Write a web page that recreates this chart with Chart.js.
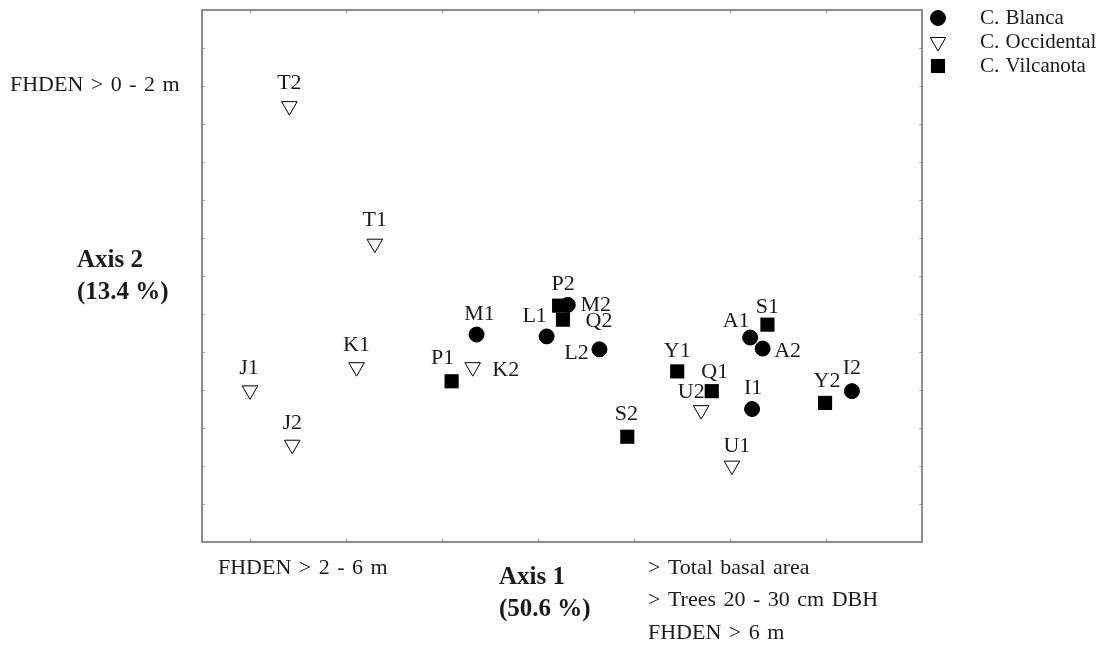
<!DOCTYPE html>
<html>
<head>
<meta charset="utf-8">
<script src="https://cdn.jsdelivr.net/npm/chart.js@4/dist/chart.umd.min.js"></script>
<style>
  html, body { margin: 0; padding: 0; background: #fff; }
  #wrap { position: relative; width: 1117px; height: 653px; }
</style>
</head>
<body>
<div id="wrap"><canvas id="ordination" width="1117" height="653"></canvas></div>
<script>
// ordination scores (axis 1 / axis 2, arbitrary units)
const blancaNames = ["M1", "L1", "M2", "L2", "A1", "A2", "I1", "I2"];
const blancaX = [2.36, 3.09, 3.31, 3.64, 5.21, 5.34, 5.23, 6.27];
const blancaY = [5.46, 5.41, 6.24, 5.07, 5.38, 5.09, 3.50, 3.97];

const occidentalNames = ["T2", "T1", "J1", "J2", "K1", "K2", "U2", "U1"];
const occidentalX = [0.41, 1.30, 0.00, 0.44, 1.11, 2.32, 4.70, 5.02];
const occidentalY = [11.47, 7.85, 3.99, 2.56, 4.60, 4.60, 3.47, 2.01];

const vilcanotaNames = ["P1", "P2", "Q2", "S2", "Y1", "Q1", "S1", "Y2"];
const vilcanotaX = [2.10, 3.22, 3.26, 3.93, 4.45, 4.81, 5.39, 5.99];
const vilcanotaY = [4.23, 6.22, 5.85, 2.77, 4.49, 3.97, 5.72, 3.66];

// where each point label sits relative to its marker (px)
const blancaLabelOffsets = [[3, -20], [-12, -20], [28, 0], [-23, 4], [-14, -16], [25, 3], [1, -21], [0, -23]];
const occidentalLabelOffsets = [[0, -23], [0, -23], [-1, -22], [0, -22], [0, -22], [33, 3], [-10, -18], [5, -19]];
const vilcanotaLabelOffsets = [[-9, -23], [4, -21], [36, 2], [-1, -23], [0, -20], [3, -19], [0, -17], [2, -22]];

const seriesNames = ["C. Blanca", "C. Occidental", "C. Vilcanota"];

const toPoints = (xs, ys) => xs.map((x, i) => ({ x: x, y: ys[i] }));

const serif = '"Liberation Serif", "DejaVu Serif", serif';

// frame with small inward ticks on every side
const framePlugin = {
  id: 'frame',
  afterDraw(chart) {
    const { ctx, chartArea: a, scales } = chart;
    ctx.save();
    ctx.strokeStyle = '#b0b0b0';
    ctx.lineWidth = 1;
    const xs = scales.x, ys = scales.y;
    for (let v = Math.ceil(xs.min); v < xs.max; v++) {
      const px = Math.round(xs.getPixelForValue(v)) + 0.5;
      ctx.beginPath();
      ctx.moveTo(px, a.top); ctx.lineTo(px, a.top + 3);
      ctx.moveTo(px, a.bottom); ctx.lineTo(px, a.bottom - 3);
      ctx.stroke();
    }
    for (let v = Math.ceil(ys.min) + 1; v < ys.max; v++) {
      const py = Math.round(ys.getPixelForValue(v)) + 0.5;
      ctx.beginPath();
      ctx.moveTo(a.left, py); ctx.lineTo(a.left + 3, py);
      ctx.moveTo(a.right, py); ctx.lineTo(a.right - 3, py);
      ctx.stroke();
    }
    ctx.strokeStyle = '#707070';
    ctx.lineWidth = 1.6;
    ctx.strokeRect(a.left, a.top, a.right - a.left, a.bottom - a.top);
    ctx.restore();
  }
};

// point names next to the markers
const pointLabelPlugin = {
  id: 'pointLabels',
  afterDatasetsDraw(chart) {
    const { ctx } = chart;
    ctx.save();
    ctx.font = '22px ' + serif;
    ctx.fillStyle = '#1a1a1a';
    ctx.textAlign = 'center';
    ctx.textBaseline = 'middle';
    chart.data.datasets.forEach((ds, di) => {
      const meta = chart.getDatasetMeta(di);
      meta.data.forEach((el, i) => {
        const off = ds.labelOffsets[i];
        ctx.fillText(ds.names[i], el.x + off[0], el.y + off[1]);
      });
    });
    ctx.restore();
  }
};

// legend, axis captions and loading notes outside the frame
const annotationPlugin = {
  id: 'annotations',
  afterDraw(chart) {
    const { ctx } = chart;
    ctx.save();
    ctx.fillStyle = '#1a1a1a';
    ctx.textBaseline = 'middle';

    // legend
    ctx.font = '21px ' + serif;
    ctx.wordSpacing = '1px';
    ctx.textAlign = 'left';
    chart.data.datasets.forEach((ds, i) => {
      const y = 18 + i * 24;
      ctx.fillStyle = ds.backgroundColor;
      ctx.strokeStyle = ds.borderColor;
      ctx.lineWidth = ds.borderWidth;
      Chart.helpers.drawPoint(ctx, {
        pointStyle: ds.pointStyle,
        radius: ds.pointRadius,
        rotation: ds.pointRotation || 0,
        borderWidth: ds.borderWidth
      }, 938, y);
      ctx.fillStyle = '#1a1a1a';
      ctx.fillText(ds.label, 980, y);
    });

    // loading notes
    ctx.font = '22px ' + serif;
    ctx.wordSpacing = '2px';
    ctx.fillText('FHDEN > 0 - 2 m', 10, 85);
    ctx.fillText('FHDEN > 2 - 6 m', 218, 568);
    ctx.fillText('> Total basal area', 648, 568);
    ctx.fillText('> Trees 20 - 30 cm DBH', 648, 600);
    ctx.fillText('FHDEN > 6 m', 648, 633);

    // axis captions
    ctx.wordSpacing = '0px';
    ctx.font = 'bold 25px ' + serif;
    ctx.fillText('Axis 2', 77, 261);
    ctx.fillText('(13.4 %)', 77, 293);
    ctx.fillText('Axis 1', 499, 578);
    ctx.fillText('(50.6 %)', 499, 610);
    ctx.restore();
  }
};

const ctx = document.getElementById('ordination').getContext('2d');
new Chart(ctx, {
  type: 'scatter',
  data: {
    datasets: [
      {
        label: seriesNames[0],
        data: toPoints(blancaX, blancaY),
        names: blancaNames,
        labelOffsets: blancaLabelOffsets,
        pointStyle: 'circle',
        pointRadius: 7.5,
        backgroundColor: '#000',
        borderColor: '#000',
        borderWidth: 1
      },
      {
        label: seriesNames[1],
        data: toPoints(occidentalX, occidentalY),
        names: occidentalNames,
        labelOffsets: occidentalLabelOffsets,
        pointStyle: 'triangle',
        pointRotation: 180,
        pointRadius: 9,
        backgroundColor: '#fff',
        borderColor: '#000',
        borderWidth: 1
      },
      {
        label: seriesNames[2],
        data: toPoints(vilcanotaX, vilcanotaY),
        names: vilcanotaNames,
        labelOffsets: vilcanotaLabelOffsets,
        pointStyle: 'rect',
        pointRadius: 10,
        backgroundColor: '#000',
        borderColor: '#000',
        borderWidth: 0
      }
    ]
  },
  options: {
    responsive: false,
    animation: false,
    layout: {
      padding: { left: 202, right: 195, top: 6, bottom: 111 }
    },
    scales: {
      x: { type: 'linear', min: -0.5, max: 7, display: false },
      y: { type: 'linear', min: 0, max: 14, display: false }
    },
    plugins: {
      legend: { display: false },
      title: { display: false },
      tooltip: { enabled: false }
    }
  },
  plugins: [framePlugin, pointLabelPlugin, annotationPlugin]
});
</script>
</body>
</html>
